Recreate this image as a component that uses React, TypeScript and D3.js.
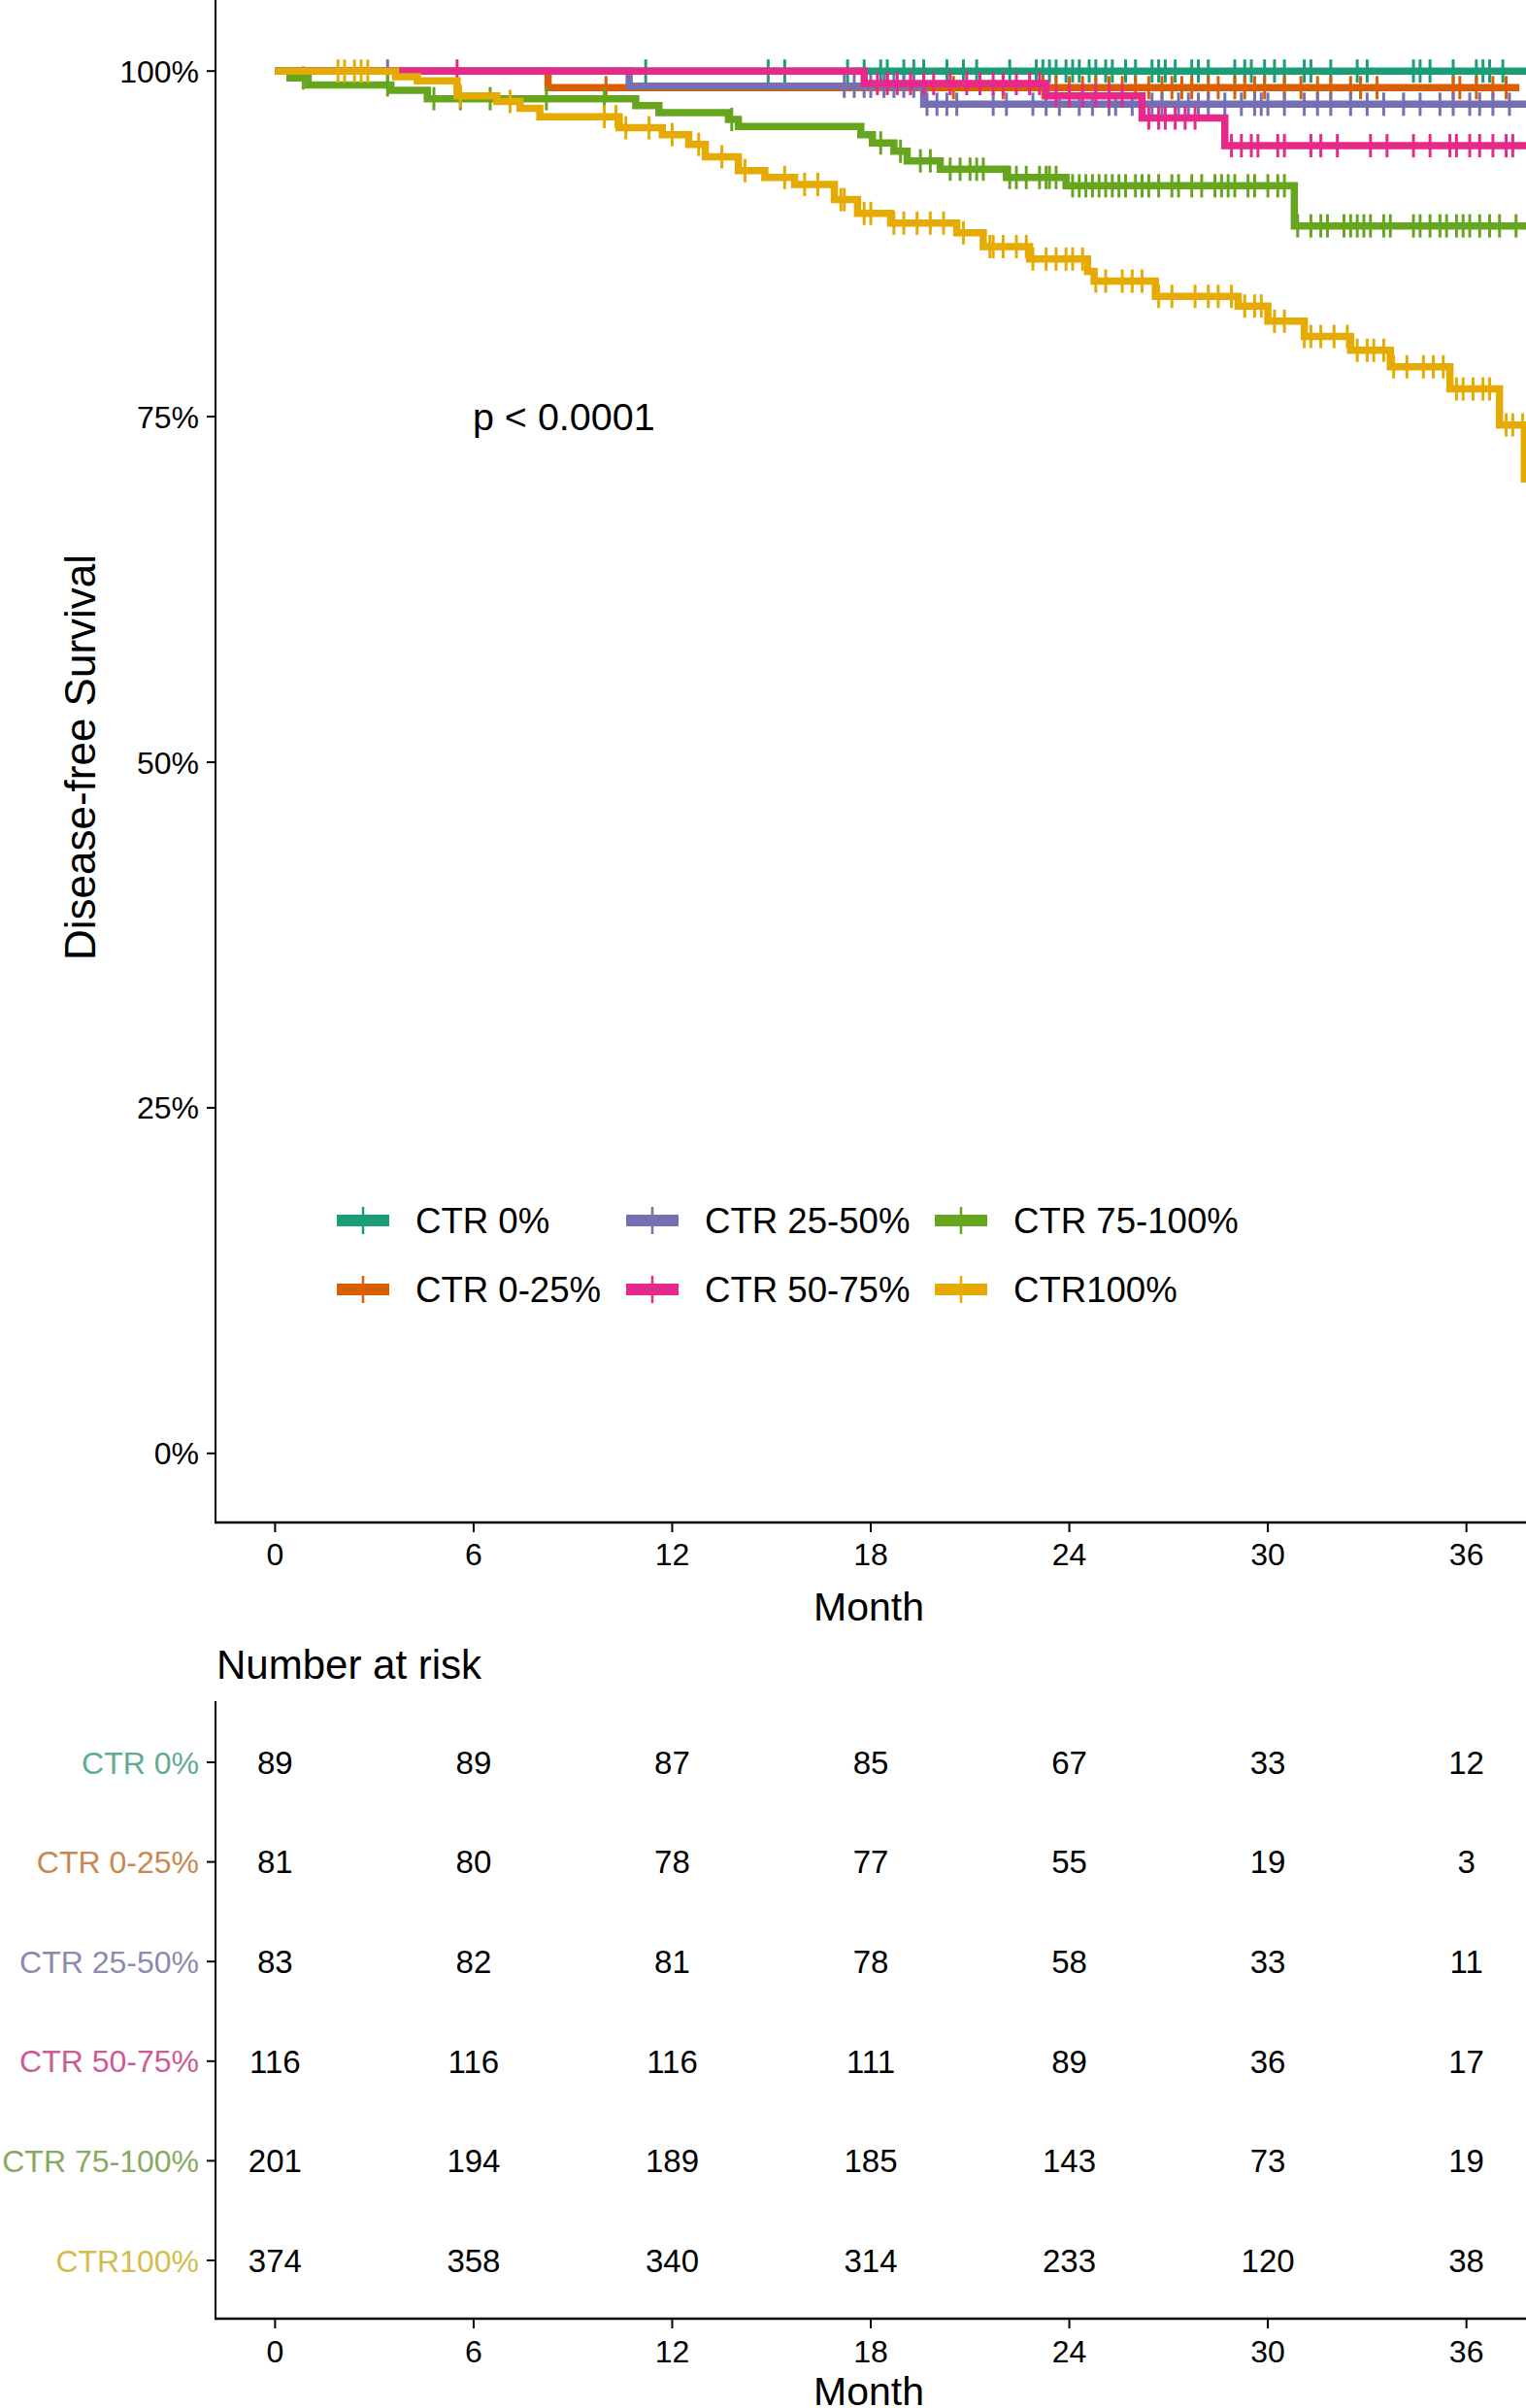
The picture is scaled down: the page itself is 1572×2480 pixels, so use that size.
import React from 'react';
import * as d3 from 'd3';

// ---------- data ----------
const strata = ['CTR 0%', 'CTR 0-25%', 'CTR 25-50%', 'CTR 50-75%', 'CTR 75-100%', 'CTR100%'];
const strataColors = ['#1B9E77', '#D95F02', '#7570B3', '#E7298A', '#66A61E', '#E6AB02'];
const tableLabelColors = ['#5fab93', '#c8884f', '#8c8bad', '#cc5b95', '#88aa5e', '#d4bc4c'];

const xTicks = [0, 6, 12, 18, 24, 30, 36];
const yTicks = [0, 25, 50, 75, 100];
const yTickLabels = ['0%', '25%', '50%', '75%', '100%'];

// step-function event times (months) and survival (%)
const ctr0Times = [0];
const ctr0Surv = [100];
const ctr025Times = [0, 8.25];
const ctr025Surv = [100, 98.8];
const ctr2550Times = [0, 10.7, 19.6];
const ctr2550Surv = [100, 98.9, 97.6];
const ctr5075Times = [0, 17.8, 23.3, 26.2, 28.7];
const ctr5075Surv = [100, 99.1, 98.2, 96.6, 94.6];
const ctr75100Times = [0, 0.45, 1.0, 3.5, 4.6, 10.9, 11.6, 13.7, 14.0, 17.7, 18.05, 18.7, 19.1, 20.1, 22.1, 23.9, 30.8];
const ctr75100Surv = [100, 99.5, 99.0, 98.6, 98.0, 97.5, 97.0, 96.5, 96.0, 95.4, 94.8, 94.2, 93.5, 92.9, 92.3, 91.7, 88.8];
const ctr100Times = [0, 3.64, 4.3, 5.5, 6.7, 7.4, 8.0, 10.4, 11.7, 12.5, 13.0, 14.0, 14.8, 15.7, 16.9, 17.6, 18.6, 20.6, 21.4, 22.8, 24.55, 24.75, 26.6, 29.1, 30.0, 31.1, 32.5, 33.7, 35.5, 37.0, 37.75];
const ctr100Surv = [100, 99.6, 99.3, 98.2, 97.8, 97.3, 96.7, 95.9, 95.4, 94.7, 93.8, 92.8, 92.3, 91.8, 90.7, 89.7, 89.0, 88.3, 87.3, 86.4, 85.5, 84.8, 83.7, 83.0, 81.9, 80.8, 79.8, 78.6, 77.0, 74.4, 70.5];
const endTimes = [37.9, 37.6, 37.9, 37.9, 37.9, 37.85];

// censoring times (months)
const ctr0Censor = [11.2, 14.9, 15.4, 17.3, 17.8, 18.3, 18.5, 19.0, 19.3, 19.6, 20.3, 20.8, 21.2, 22.2, 23.0, 23.2, 23.4, 23.6, 23.9, 24.1, 24.3, 24.6, 24.8, 25.1, 25.3, 25.7, 26.0, 26.5, 26.7, 26.9, 27.2, 27.7, 27.9, 28.2, 29.0, 29.3, 29.5, 29.9, 30.2, 30.5, 31.1, 31.3, 31.9, 32.7, 33.0, 34.4, 34.6, 34.9, 35.6, 36.3, 36.5, 36.7, 37.1];
const ctr025Censor = [10.0, 20.5, 22.0, 23.2, 23.6, 24.0, 24.4, 24.8, 25.2, 25.6, 26.0, 26.4, 26.8, 27.1, 27.4, 27.7, 28.2, 28.5, 29.0, 29.3, 29.6, 29.9, 30.5, 31.0, 31.5, 31.9, 32.5, 32.8, 33.3, 35.6, 35.8, 36.3, 36.8, 37.2];
const ctr2550Censor = [3.4, 17.2, 17.5, 17.8, 18.0, 18.4, 18.7, 19.0, 19.3, 19.7, 20.0, 20.3, 20.6, 21.7, 22.1, 22.9, 23.3, 23.7, 24.3, 24.7, 25.2, 25.4, 25.9, 26.5, 26.8, 27.3, 27.6, 27.9, 28.2, 28.7, 29.2, 29.6, 29.8, 30.0, 30.5, 31.1, 31.5, 31.9, 32.5, 33.0, 33.5, 34.1, 34.6, 35.2, 35.6, 36.1, 36.4, 36.8, 37.3];
const ctr5075Censor = [5.5, 18.2, 18.5, 18.8, 19.2, 19.6, 19.9, 20.4, 20.9, 21.3, 21.7, 22.0, 22.4, 22.8, 23.1, 23.6, 24.0, 24.4, 24.8, 25.2, 25.6, 26.4, 26.7, 26.9, 27.2, 27.5, 27.8, 28.9, 29.2, 29.5, 29.7, 30.3, 30.5, 31.3, 31.6, 32.1, 33.1, 33.6, 34.4, 34.9, 35.5, 35.7, 36.1, 36.4, 36.8, 37.2, 37.4];
const ctr75100Censor = [0.85, 3.4, 4.8, 5.6, 6.5, 8.2, 9.95, 13.8, 18.3, 18.9, 19.5, 19.8, 20.4, 20.7, 21.0, 21.2, 21.4, 22.2, 22.4, 22.7, 23.1, 23.3, 23.4, 23.6, 24.1, 24.3, 24.5, 24.7, 24.9, 25.1, 25.3, 25.5, 25.7, 26.0, 26.2, 26.4, 26.7, 27.1, 27.3, 27.7, 28.0, 28.4, 28.6, 28.8, 29.0, 29.4, 29.6, 30.0, 30.3, 30.5, 30.9, 31.3, 31.6, 31.8, 32.3, 32.5, 32.7, 32.9, 33.1, 33.5, 33.7, 34.4, 34.6, 34.9, 35.2, 35.4, 35.7, 35.9, 36.1, 36.4, 36.7, 37.0, 37.5];
const ctr100Censor = [1.9, 2.1, 2.4, 2.6, 2.8, 5.6, 7.1, 9.95, 10.3, 10.6, 11.3, 12.0, 12.8, 13.5, 14.2, 15.4, 16.0, 16.4, 17.1, 17.2, 17.8, 18.0, 18.7, 19.0, 19.4, 19.8, 20.2, 20.8, 21.6, 21.7, 22.0, 22.4, 22.7, 22.9, 23.3, 23.6, 23.9, 24.1, 24.4, 24.8, 25.1, 25.6, 25.9, 26.2, 26.7, 27.1, 27.8, 28.2, 28.5, 28.9, 29.3, 29.6, 29.8, 30.2, 30.5, 31.1, 31.3, 31.6, 32.0, 32.4, 32.7, 33.0, 33.2, 33.5, 33.8, 34.2, 34.7, 35.0, 35.3, 35.7, 35.9, 36.2, 36.5, 36.7, 37.2, 37.4, 37.7];

// number at risk
const riskTimes = [0, 6, 12, 18, 24, 30, 36];
const riskCtr0 = [89, 89, 87, 85, 67, 33, 12];
const riskCtr025 = [81, 80, 78, 77, 55, 19, 3];
const riskCtr2550 = [83, 82, 81, 78, 58, 33, 11];
const riskCtr5075 = [116, 116, 116, 111, 89, 36, 17];
const riskCtr75100 = [201, 194, 189, 185, 143, 73, 19];
const riskCtr100 = [374, 358, 340, 314, 233, 120, 38];

const pValueText = 'p < 0.0001';

// ---------- assembled ----------
const timesList = [ctr0Times, ctr025Times, ctr2550Times, ctr5075Times, ctr75100Times, ctr100Times];
const survList = [ctr0Surv, ctr025Surv, ctr2550Surv, ctr5075Surv, ctr75100Surv, ctr100Surv];
const censorList = [ctr0Censor, ctr025Censor, ctr2550Censor, ctr5075Censor, ctr75100Censor, ctr100Censor];
const riskList = [riskCtr0, riskCtr025, riskCtr2550, riskCtr5075, riskCtr75100, riskCtr100];

const FONT = "'Liberation Sans', Arial, Helvetica, sans-serif";
const W = 1572;
const H = 2480;

export default function App() {
  const left = 222;
  const right = 1572;
  const top = 0;
  const bottom = 1568;

  const x = d3.scaleLinear().domain([-1.8, 37.8]).range([left, right]);
  const y = d3.scaleLinear().domain([-5, 105]).range([bottom, top + 2]);

  const line = d3
    .line<[number, number]>()
    .x((d) => x(d[0]))
    .y((d) => y(d[1]))
    .curve(d3.curveStepAfter);

  const survAt = (i: number, t: number) => {
    const ts = timesList[i];
    const idx = d3.bisectRight(ts, t) - 1;
    return survList[i][Math.max(0, idx)];
  };

  const tableTop = 1752;
  const tableBottom = 2388;
  const rowY = d3.scalePoint<string>().domain(strata).range([1815, 2328]);

  const legendCols = [347, 645, 963];
  const legendRows = [1257, 1328];

  return (
    <div style={{ position: 'absolute', left: 0, top: 0 }}>
      <svg width={W} height={H} viewBox={`0 0 ${W} ${H}`} style={{ display: 'block', background: '#fff' }} fontFamily={FONT}>
        <defs>
          <clipPath id="plotClip">
            <rect x={left} y={top} width={right - left} height={bottom - top} />
          </clipPath>
        </defs>
        <rect x={0} y={0} width={W} height={H} fill="#fff" />

        {/* curves */}
        <g clipPath="url(#plotClip)">
          {strata.map((s, i) => {
            const pts: [number, number][] = timesList[i].map((t, k) => [t, survList[i][k]] as [number, number]);
            pts.push([endTimes[i], survList[i][survList[i].length - 1]]);
            return (
              <g key={s}>
                <path d={line(pts) || ''} fill="none" stroke={strataColors[i]} strokeWidth={7.5} strokeLinejoin="miter" />
                {censorList[i].map((c, k) => (
                  <line
                    key={k}
                    x1={x(c)}
                    x2={x(c)}
                    y1={y(survAt(i, c)) - 12}
                    y2={y(survAt(i, c)) + 12}
                    stroke={strataColors[i]}
                    strokeWidth={3}
                  />
                ))}
              </g>
            );
          })}
        </g>

        {/* p value */}
        <text x={x(6) - 1} y={y(75) + 14} fontSize={39.5} fill="#000">
          {pValueText}
        </text>

        {/* legend */}
        {strata.map((s, i) => {
          const col = Math.floor(i / 2);
          const row = i % 2;
          const kx = legendCols[col];
          const ky = legendRows[row];
          return (
            <g key={'lg' + s}>
              <line x1={kx} x2={kx + 54} y1={ky} y2={ky} stroke={strataColors[i]} strokeWidth={12} />
              <line x1={kx + 27} x2={kx + 27} y1={ky - 14} y2={ky + 14} stroke={strataColors[i]} strokeWidth={2.5} />
              <text x={kx + 81} y={ky} dy="0.36em" fontSize={36.6} fill="#000">
                {s}
              </text>
            </g>
          );
        })}

        {/* main axes */}
        <line x1={left} x2={left} y1={top} y2={bottom} stroke="#000" strokeWidth={2} />
        <line x1={left - 1} x2={right} y1={bottom} y2={bottom} stroke="#000" strokeWidth={2.5} />
        {yTicks.map((t, k) => (
          <g key={'yt' + t}>
            <line x1={left - 9} x2={left} y1={y(t)} y2={y(t)} stroke="#000" strokeWidth={2} />
            <text x={left - 17} y={y(t)} dy="0.36em" textAnchor="end" fontSize={32} fill="#000">
              {yTickLabels[k]}
            </text>
          </g>
        ))}
        {xTicks.map((t) => (
          <g key={'xt' + t}>
            <line x1={x(t)} x2={x(t)} y1={bottom} y2={bottom + 10} stroke="#000" strokeWidth={2} />
            <text x={x(t)} y={1600} dy="0.36em" textAnchor="middle" fontSize={32} fill="#000">
              {t}
            </text>
          </g>
        ))}
        <text x={(left + right) / 2 - 2} y={1654} dy="0.36em" textAnchor="middle" fontSize={41} fill="#000">
          Month
        </text>
        <text
          transform={`translate(82, ${(top + bottom) / 2 - 4}) rotate(-90)`}
          dy="0.36em"
          textAnchor="middle"
          fontSize={44}
          fill="#000"
        >
          Disease-free Survival
        </text>

        {/* risk table */}
        <text x={223} y={1714} dy="0.36em" fontSize={42} fill="#000">
          Number at risk
        </text>
        <line x1={left} x2={left} y1={tableTop} y2={tableBottom} stroke="#000" strokeWidth={2} />
        <line x1={left - 1} x2={right} y1={tableBottom} y2={tableBottom} stroke="#000" strokeWidth={2.5} />
        {strata.map((s, i) => (
          <g key={'rt' + s}>
            <line x1={left - 9} x2={left} y1={rowY(s)!} y2={rowY(s)!} stroke="#000" strokeWidth={2} />
            <text x={left - 17} y={rowY(s)!} dy="0.36em" textAnchor="end" fontSize={32} fill={tableLabelColors[i]}>
              {s}
            </text>
            {riskTimes.map((t, k) => (
              <text key={k} x={x(t)} y={rowY(s)!} dy="0.36em" textAnchor="middle" fontSize={33} fill="#000">
                {riskList[i][k]}
              </text>
            ))}
          </g>
        ))}
        {xTicks.map((t) => (
          <g key={'txt' + t}>
            <line x1={x(t)} x2={x(t)} y1={tableBottom} y2={tableBottom + 10} stroke="#000" strokeWidth={2} />
            <text x={x(t)} y={2421} dy="0.36em" textAnchor="middle" fontSize={32} fill="#000">
              {t}
            </text>
          </g>
        ))}
        <text x={(left + right) / 2 - 2} y={2462} dy="0.36em" textAnchor="middle" fontSize={41} fill="#000">
          Month
        </text>
      </svg>
    </div>
  );
}
